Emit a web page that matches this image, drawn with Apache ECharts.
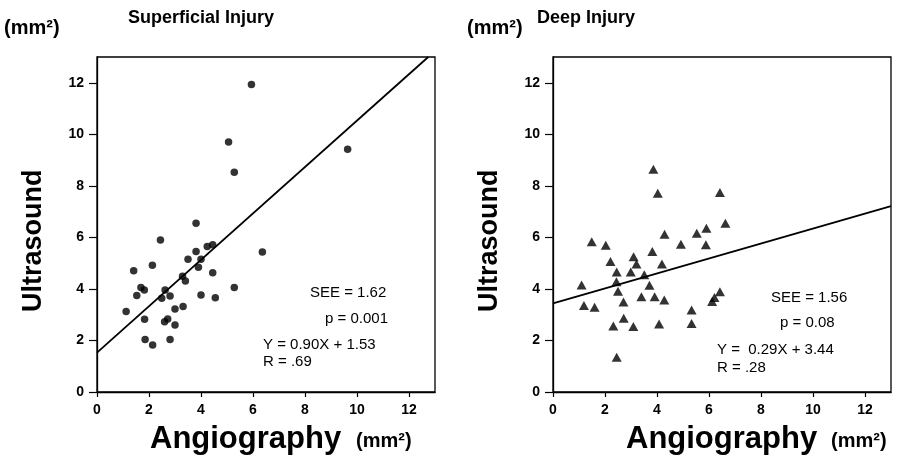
<!DOCTYPE html>
<html><head><meta charset="utf-8">
<script src="https://cdn.jsdelivr.net/npm/echarts@6/dist/echarts.min.js"></script>
<style>html,body{margin:0;padding:0;background:#fff}#c{width:905px;height:465px}</style>
</head><body><div id="c"></div>
<script>
// Superficial injury: [angiography, ultrasound]
const superficialPoints = [
  [5.94,11.93],[5.06,9.70],[5.28,8.53],[9.64,9.42],[3.81,6.55],[2.44,5.90],[6.36,5.43],
  [4.24,5.65],[4.45,5.71],[3.81,5.45],[3.50,5.15],[4.00,5.15],[3.90,4.84],[1.41,4.71],
  [2.13,4.92],[4.45,4.63],[3.29,4.49],[3.40,4.31],[1.69,4.06],[1.82,3.96],[1.53,3.74],
  [2.62,3.96],[2.49,3.64],[2.81,3.73],[4.00,3.76],[4.55,3.66],[5.28,4.06],[1.12,3.12],
  [1.83,2.82],[3.00,3.22],[3.31,3.32],[2.72,2.83],[2.60,2.73],[3.00,2.60],[1.85,2.04],
  [2.14,1.82],[2.81,2.04]
];
// Deep injury: [angiography, ultrasound]
const deepPoints = [
  [3.86,8.64],[4.03,7.71],[6.42,7.74],[6.63,6.55],[4.29,6.12],[5.53,6.16],[5.90,6.35],
  [5.88,5.71],[4.92,5.73],[1.49,5.83],[2.03,5.69],[3.82,5.45],[2.21,5.06],[3.10,5.25],
  [3.21,4.97],[4.19,4.97],[2.45,4.66],[2.99,4.66],[3.51,4.55],[2.44,4.28],[1.10,4.15],
  [3.71,4.14],[2.50,3.91],[2.71,3.49],[3.40,3.70],[3.91,3.70],[4.28,3.57],[1.19,3.36],
  [1.60,3.29],[6.42,3.89],[6.21,3.67],[6.12,3.51],[5.33,3.18],[2.72,2.86],[2.32,2.56],
  [3.09,2.54],[4.08,2.64],[5.33,2.66],[2.45,1.35]
];
// regression line end points (as drawn)
const superficialFit = [[0,1.53],[12.74,13]];
const deepFit = [[0,3.44],[13,7.21]];
const tickValues = [0,2,4,6,8,10,12];

const FONT = 'Liberation Sans';
function xAxis(grid){
  return {type:'value',gridIndex:grid,min:0,max:13,interval:1,
    axisLine:{show:true,lineStyle:{color:'#000',width:1.3}},
    axisTick:{show:true,length:5,lineStyle:{color:'#000',width:1.2},customValues:tickValues},
    axisLabel:{color:'#000',fontFamily:FONT,fontWeight:'bold',fontSize:14,margin:11,
      customValues:tickValues},
    splitLine:{show:false}};
}
function yAxis(grid){
  return {type:'value',gridIndex:grid,min:0,max:13,interval:1,
    axisLine:{show:true,lineStyle:{color:'#000',width:1.3}},
    axisTick:{show:true,length:8,lineStyle:{color:'#000',width:1.2},customValues:tickValues},
    axisLabel:{color:'#000',fontFamily:FONT,fontWeight:'bold',fontSize:14,margin:13,
      customValues:tickValues},
    splitLine:{show:false}};
}
const txt = (x,y,t,size,bold,extra)=>Object.assign({type:'text',x:x,y:y,
  style:{text:t,fill:'#000',font:(bold?'bold ':'')+size+'px "'+FONT+'"',verticalAlign:'middle'}},extra||{});

const chart = echarts.init(document.getElementById('c'));
chart.setOption({
  animation:false,
  backgroundColor:'#fff',
  grid:[
    {left:97,top:57,width:338,height:335,show:true,borderColor:'#000',borderWidth:1.3},
    {left:553,top:57,width:338,height:335,show:true,borderColor:'#000',borderWidth:1.3}
  ],
  xAxis:[xAxis(0),xAxis(1)],
  yAxis:[yAxis(0),yAxis(1)],
  series:[
    {type:'scatter',xAxisIndex:0,yAxisIndex:0,data:superficialPoints,symbol:'circle',symbolSize:7.5,
      itemStyle:{color:'#000'}},
    {type:'line',xAxisIndex:0,yAxisIndex:0,data:superficialFit,symbol:'none',
      lineStyle:{color:'#000',width:1.8}},
    {type:'scatter',xAxisIndex:1,yAxisIndex:1,data:deepPoints,symbol:'triangle',symbolSize:[10,9],
      itemStyle:{color:'#000'}},
    {type:'line',xAxisIndex:1,yAxisIndex:1,data:deepFit,symbol:'none',
      lineStyle:{color:'#000',width:1.8}}
  ],
  graphic:[
    txt(128,18,'Superficial Injury',18,true),
    txt(537,18,'Deep Injury',18,true),
    txt(4,28,'(mm²)',20,true),
    txt(467,28,'(mm²)',20,true),
    txt(150,439,'Angiography',31,true),
    txt(356,441,'(mm²)',20,true),
    txt(626,439,'Angiography',31,true),
    txt(831,441,'(mm²)',20,true),
    txt(34,312,'Ultrasound',27,true,{rotation:Math.PI/2}),
    txt(490,312,'Ultrasound',27,true,{rotation:Math.PI/2}),
    txt(310,293,'SEE = 1.62',15,false),
    txt(325,319,'p = 0.001',15,false),
    txt(263,345,'Y = 0.90X + 1.53',15,false),
    txt(263,362,'R = .69',15,false),
    txt(771,298,'SEE = 1.56',15,false),
    txt(780,323,'p = 0.08',15,false),
    txt(717,350,'Y =  0.29X + 3.44',15,false),
    txt(717,368,'R = .28',15,false)
  ]
});
</script></body></html>
